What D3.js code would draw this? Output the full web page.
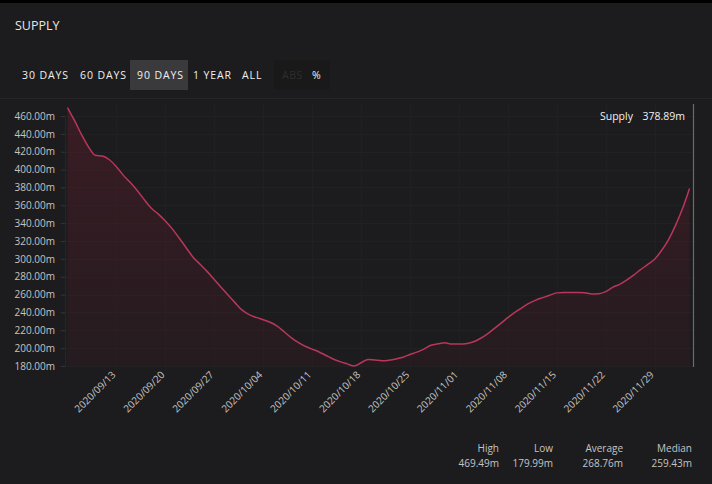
<!DOCTYPE html>
<html><head><meta charset="utf-8">
<script src="https://cdn.jsdelivr.net/npm/d3@7/dist/d3.min.js"></script>
<style>
html,body{margin:0;padding:0;background:#1c1c1e;}
svg{display:block;font-family:"Open Sans","Noto Sans",sans-serif;}
</style></head><body>
<svg id="c" width="712" height="484"></svg>
<script>
const startDate = "2020-09-06";
const supply = [
469.49,455.0,439.3,425.5,416.0,415.2,411.0,403.2,393.5,385.4,
376.3,366.2,356.7,350.1,342.5,333.6,323.1,312.2,301.6,293.7,
285.7,276.9,268.0,259.2,250.7,242.5,237.5,234.5,231.8,229.0,
224.6,218.4,211.8,206.4,202.1,198.9,195.7,191.8,187.9,184.9,
182.4,179.99,183.6,187.4,186.7,185.9,186.5,187.9,189.9,192.9,
195.5,198.9,203.3,204.8,206.0,204.6,204.6,205.0,206.8,210.5,
215.5,221.5,227.7,234.2,240.1,245.2,250.1,253.8,256.6,259.3,
261.9,262.4,262.4,262.3,262.0,260.7,260.9,263.3,268.1,271.5,
276.2,281.8,287.9,293.6,299.6,309.3,321.6,337.5,356.3,378.89];
const yTicks = [180,200,220,240,260,280,300,320,340,360,380,400,420,440,460];
const xTickLabels = ["2020/09/13","2020/09/20","2020/09/27","2020/10/04","2020/10/11","2020/10/18","2020/10/25","2020/11/01","2020/11/08","2020/11/15","2020/11/22","2020/11/29"];
const rangeButtons = ["30 DAYS","60 DAYS","90 DAYS","1 YEAR","ALL"];
const modeButtons = ["ABS","%"];
const statLabels = ["High","Low","Average","Median"];
const statValues = ["469.49m","179.99m","268.76m","259.43m"];
const seriesName = "Supply";
const lastValue = "378.89m";

const parse = d3.timeParse("%Y-%m-%d");
const parseTick = d3.timeParse("%Y/%m/%d");
const t0 = parse(startDate);
const data = supply.map((v,i)=>({date:d3.timeDay.offset(t0,i), v}));

const svg = d3.select("#c");
svg.append("rect").attr("width",712).attr("height",484).attr("fill","#1c1c1e");
svg.append("rect").attr("width",712).attr("height",3).attr("fill","#000");

svg.append("text").attr("x",15).attr("y",30).attr("fill","#e6e6e6")
  .style("font-size","12.5px").text("SUPPLY");

// buttons
const btnX = [22,80,137,193,242];
svg.append("rect").attr("x",130).attr("y",60).attr("width",58).attr("height",30).attr("fill","#3a3a3c");
svg.append("rect").attr("x",274).attr("y",60).attr("width",32).attr("height",30).attr("fill","#19191a");
svg.append("rect").attr("x",306).attr("y",60).attr("width",24).attr("height",30).attr("fill","#19191a");
rangeButtons.forEach((b,i)=>{
  svg.append("text").attr("x",btnX[i]).attr("y",79).attr("fill","#f0f0f0")
    .style("font-size","10.5px").style("letter-spacing","0.9px").text(b);
});
svg.append("text").attr("x",282).attr("y",79).attr("fill","#2e2e30").style("font-size","10.5px").style("letter-spacing","0.5px").text(modeButtons[0]);
svg.append("text").attr("x",312).attr("y",79).attr("fill","#f0f0f0").style("font-size","10.5px").text(modeButtons[1]);

svg.append("line").attr("x1",0).attr("x2",712).attr("y1",98.5).attr("y2",98.5).attr("stroke","#262628");

const x = d3.scaleTime()
  .domain([d3.timeHour.offset(t0,-12), d3.timeHour.offset(data[data.length-1].date,12)])
  .range([64,693]);
const y = d3.scaleLinear().domain([180,460]).range([366,116]);

// grid
const g = svg.append("g");
g.selectAll(".hg").data(yTicks).enter().append("line")
  .attr("x1",60).attr("x2",693).attr("y1",d=>Math.round(y(d))+0.5).attr("y2",d=>Math.round(y(d))+0.5)
  .attr("stroke","#212123");
const tickDates = xTickLabels.map(parseTick);
g.selectAll(".vg").data(tickDates).enter().append("line")
  .attr("x1",d=>Math.round(x(d))+0.5).attr("x2",d=>Math.round(x(d))+0.5).attr("y1",104).attr("y2",370)
  .attr("stroke","#202022");

// y axis
const yAxis = d3.axisLeft(y).tickValues(yTicks).tickSize(4).tickPadding(6).tickFormat(d=>d3.format(".2f")(d)+"m");
const ya = svg.append("g").attr("transform","translate(65,0)").call(yAxis);
ya.select(".domain").attr("stroke","#262628");
ya.selectAll(".tick line").attr("stroke","#343436");
ya.selectAll("text").attr("fill","#c4c4c4").style("font-size","10px").style("font-family","'Open Sans',sans-serif");

// x axis
const xAxis = d3.axisBottom(x).tickValues(tickDates).tickSize(0).tickFormat(d3.timeFormat("%Y/%m/%d"));
const xa = svg.append("g").attr("transform","translate(0,366)").call(xAxis);
xa.select(".domain").remove();
xa.selectAll("text").attr("fill","#c4c4c4").style("font-size","10px")
  .style("font-family","'Open Sans',sans-serif")
  .attr("text-anchor","end").attr("transform","translate(-3,7) rotate(-45)").attr("dy","0.35em").attr("y",0);

// area
const defs = svg.append("defs");
const grad = defs.append("linearGradient").attr("id","ag").attr("x1",0).attr("x2",0).attr("y1",0).attr("y2",1);
grad.append("stop").attr("offset","0%").attr("stop-color","#6a1c2e").attr("stop-opacity",0.4);
grad.append("stop").attr("offset","100%").attr("stop-color","#3a1a22").attr("stop-opacity",0.3);
const area = d3.area().x(d=>x(d.date)).y0(366).y1(d=>y(d.v)).curve(d3.curveMonotoneX);
svg.append("path").datum(data).attr("d",area).attr("fill","url(#ag)");
const line = d3.line().x(d=>x(d.date)).y(d=>y(d.v)).curve(d3.curveMonotoneX);
svg.append("path").datum(data).attr("d",line).attr("fill","none").attr("stroke","#b8375a").attr("stroke-width",1.5);

// right cursor line
svg.append("line").attr("x1",693.5).attr("x2",693.5).attr("y1",104).attr("y2",367).attr("stroke","#6a6a6c").attr("stroke-width",1.2);

// legend
svg.append("text").attr("x",600).attr("y",120).attr("fill","#f0f0f0").style("font-size","10.5px").text(seriesName);
svg.append("text").attr("x",685).attr("y",120).attr("text-anchor","end").attr("fill","#f0f0f0").style("font-size","10.5px").text(lastValue);

// stats
const statRight = [499,553,623,692];
statLabels.forEach((s,i)=>{
  svg.append("text").attr("x",statRight[i]).attr("y",452).attr("text-anchor","end").attr("fill","#c4c4c4").style("font-size","10px").text(s);
  svg.append("text").attr("x",statRight[i]).attr("y",467).attr("text-anchor","end").attr("fill","#c4c4c4").style("font-size","10px").text(statValues[i]);
});
</script>
</body></html>
